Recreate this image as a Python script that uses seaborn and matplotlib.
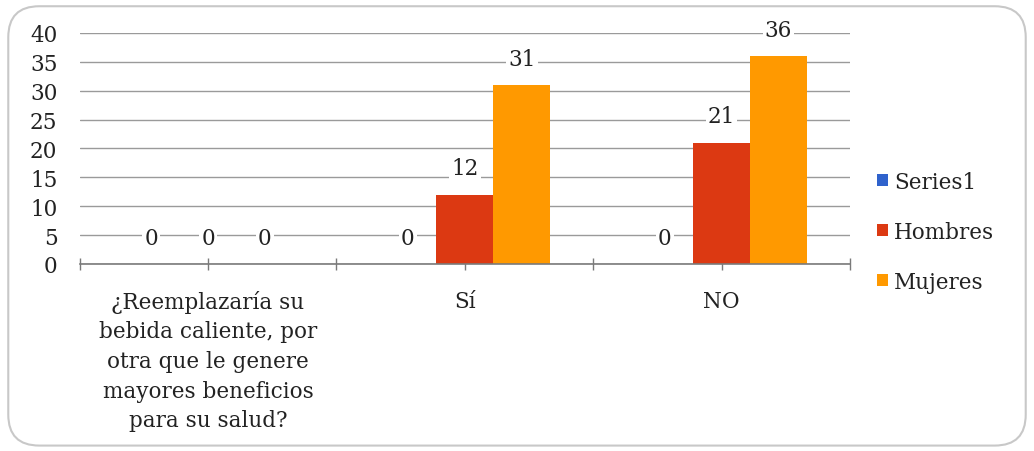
import matplotlib
matplotlib.use("Agg")
import matplotlib.pyplot as plt
import seaborn as sns
import pandas as pd
from matplotlib.patches import FancyBboxPatch

categories = ["¿Reemplazaría su\nbebida caliente, por\notra que le genere\nmayores beneficios\npara su salud?", "Sí", "NO"]
series_names = ["Series1", "Hombres", "Mujeres"]
series1 = [0, 0, 0]
hombres = [0, 12, 21]
mujeres = [0, 31, 36]
colors = ["#2F62CC", "#DC3912", "#FF9900"]
yticks = [0, 5, 10, 15, 20, 25, 30, 35, 40]

rows = []
for name, vals in zip(series_names, [series1, hombres, mujeres]):
    for c, v in zip(categories, vals):
        rows.append({"cat": c, "serie": name, "val": v})
df = pd.DataFrame(rows)

sns.set_theme(style="white")
plt.rcParams['font.family'] = ['DejaVu Serif']
txt = "#222222"
fs = 15.5

fig = plt.figure(figsize=(10.34, 4.52), dpi=100)
ax = fig.add_axes([0.077, 0.414, 0.745, 0.511])

sns.barplot(data=df, x="cat", y="val", hue="serie", order=categories,
            hue_order=series_names, palette=colors, width=0.665,
            saturation=1, linewidth=0, ax=ax, legend=True)

for cont in ax.containers:
    labels = ax.bar_label(cont, fmt="%g", padding=11, fontsize=fs, color=txt)
    for t in labels:
        t.set_bbox(dict(facecolor="white", edgecolor="none", pad=1.5))

ax.set_ylim(0, 40)
ax.set_yticks(yticks)
ax.set_xlim(-0.5, 2.5)
ax.yaxis.grid(True, color="#9a9a9a", linewidth=1.0)
ax.set_axisbelow(True)
for s in ["left", "right", "top"]:
    ax.spines[s].set_visible(False)
ax.spines["bottom"].set_color("#7a7a7a")
ax.spines["bottom"].set_linewidth(1.2)

ax.set_xlabel("")
ax.set_ylabel("")
ax.set_xticks([0, 1, 2])
ax.set_xticks([-0.5, 0.5, 1.5, 2.5], minor=True)
ax.tick_params(axis="x", which="both", direction="inout", length=9, width=1,
               color="#7a7a7a", bottom=True)
ax.tick_params(axis="x", which="major", labelsize=fs, labelcolor=txt, pad=14)
ax.tick_params(axis="y", length=0, labelsize=fs, labelcolor=txt, pad=16)
for lab in ax.get_xticklabels():
    lab.set_linespacing(1.45)
    lab.set_verticalalignment("top")

leg = ax.legend(loc="center left", bbox_to_anchor=(1.01, 0.14), frameon=False,
                fontsize=fs, handlelength=0.5, handleheight=0.5,
                handletextpad=0.3, labelspacing=1.3, labelcolor=txt)

border = FancyBboxPatch((0.008, 0.012), 0.984, 0.972, boxstyle="round,pad=0,rounding_size=0.03",
                        transform=fig.transFigure, facecolor="none",
                        edgecolor="#c8c8c8", linewidth=1.5, mutation_aspect=1034/452)
fig.patches.append(border)

fig.savefig("out.png", dpi=100)
